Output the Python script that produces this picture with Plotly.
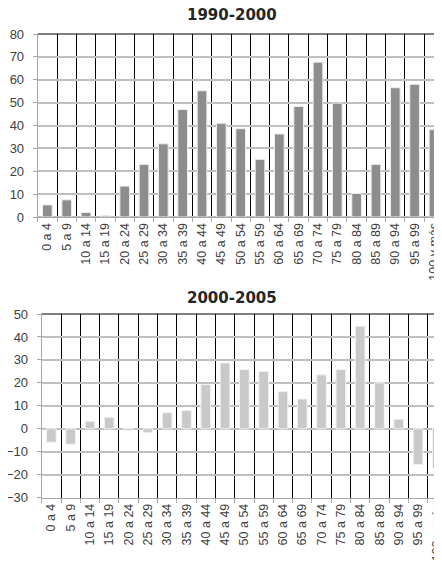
import plotly.graph_objects as go

categories = ["0 a 4", "5 a 9", "10 a 14", "15 a 19", "20 a 24", "25 a 29", "30 a 34",
              "35 a 39", "40 a 44", "45 a 49", "50 a 54", "55 a 59", "60 a 64", "65 a 69",
              "70 a 74", "75 a 79", "80 a 84", "85 a 89", "90 a 94", "95 a 99", "100 y más"]
v_1990_2000 = [5.3, 7.5, 2.0, 0.5, 13.5, 23.0, 32.0, 47.0, 55.2, 41.0, 38.6, 25.2, 36.3,
               48.3, 67.7, 49.8, 10.3, 23.0, 56.5, 58.0, 38.2]
v_2000_2005 = [-5.8, -6.7, 3.3, 5.0, -0.7, -1.7, 7.0, 8.0, 19.3, 28.7, 25.8, 25.0, 16.2,
               13.0, 23.5, 25.8, 44.7, 20.0, 4.2, -15.5, -17.3]
titles = ["1990-2000", "2000-2005"]

# page body has an 8px margin: figure is placed at (8, 8) in the 442x564 window
OFF = 8
W, H = 442 - OFF, 564 - OFF
FONT = "Liberation Sans"
AX_GRAY = "#a6a6a6"
GRID_GRAY = "#bfbfbf"

fig = go.Figure()
fig.add_bar(x=categories, y=v_1990_2000, xaxis="x", yaxis="y", width=0.5,
            marker=dict(color="#8d8d8f", line=dict(color="#eeeeee", width=1)))
fig.add_bar(x=categories, y=v_2000_2005, xaxis="x2", yaxis="y2", width=0.5,
            marker=dict(color="#c9c9cb", line=dict(color="#f2f2f2", width=1)))


def xax(left_px, anchor, cat_w):
    left = left_px - OFF
    rng_right = -0.5 + (W - left) / cat_w
    return dict(domain=[left / W, 1], anchor=anchor, type="category",
                range=[-0.5, rng_right], tickson="boundaries", showgrid=True,
                gridcolor="#000000", gridwidth=1, showline=True, linecolor=AX_GRAY,
                linewidth=1, ticks="outside", ticklen=4, tickcolor=AX_GRAY,
                tickangle=-90, tickfont=dict(family=FONT, size=12.5, color="#404040"),
                automargin=False, fixedrange=True)


def yax(top_px, bot_px, anchor, rng):
    return dict(domain=[1 - (bot_px - OFF) / H, 1 - (top_px - OFF) / H], anchor=anchor,
                range=rng, dtick=10, showgrid=True, gridcolor=GRID_GRAY, gridwidth=1.5,
                zeroline=True, zerolinecolor=GRID_GRAY, zerolinewidth=1.5,
                showline=True, linecolor=AX_GRAY, linewidth=1, ticks="outside",
                ticklen=4, tickcolor=AX_GRAY, ticklabelstandoff=6,
                tickfont=dict(family=FONT, size=13, color="#404040"),
                automargin=False, fixedrange=True)


fig.update_layout(
    width=W, height=H, margin=dict(l=0, r=0, t=0, b=0, autoexpand=False),
    paper_bgcolor="white", plot_bgcolor="white", showlegend=False,
    xaxis=xax(37.7, "y", 19.33),
    yaxis=yax(34, 217, "x", [0, 80]),
    xaxis2=xax(41.7, "y2", 19.3),
    yaxis2=yax(314, 497.7, "x2", [-30, 50]),
    shapes=[
        dict(type="line", xref="x domain", yref="y domain", x0=0, x1=1, y0=1, y1=1,
             line=dict(color="#000000", width=1.2)),
        dict(type="line", xref="x2 domain", yref="y2 domain", x0=0, x1=1, y0=1, y1=1,
             line=dict(color="#000000", width=1.2)),
    ],
    annotations=[
        dict(text="<b>%s</b>" % titles[0], xref="paper", yref="paper", x=(232 - OFF) / W,
             y=1 - (15 - OFF) / H, xanchor="center", yanchor="middle", showarrow=False,
             font=dict(family="DejaVu Sans", size=15, color="#262626")),
        dict(text="<b>%s</b>" % titles[1], xref="paper", yref="paper", x=(232 - OFF) / W,
             y=1 - (298 - OFF) / H, xanchor="center", yanchor="middle", showarrow=False,
             font=dict(family="DejaVu Sans", size=15, color="#262626")),
    ],
)

fig.write_html("out.html")
